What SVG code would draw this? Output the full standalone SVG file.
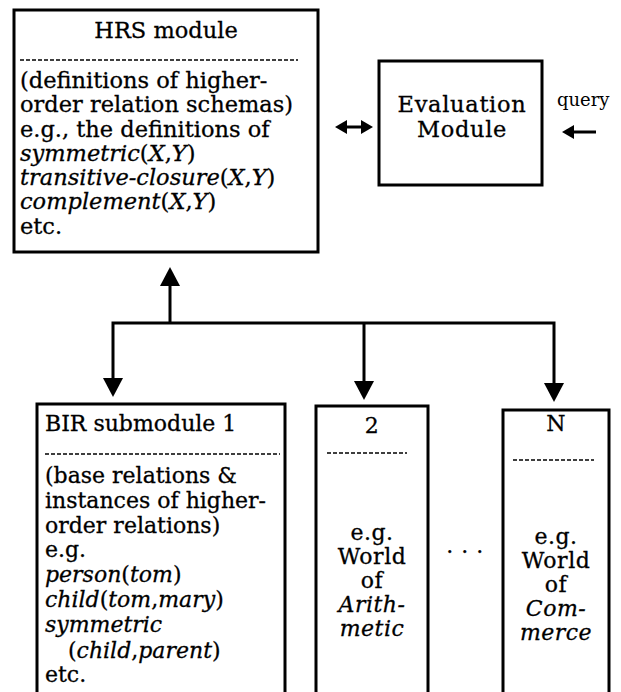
<svg xmlns="http://www.w3.org/2000/svg" width="621" height="692" viewBox="0 0 621 692">
<style>
.box{fill:none;stroke:#000;stroke-width:3}
.dash{stroke:#000;stroke-width:1.5;stroke-dasharray:4 2}
.t{font-family:"DejaVu Serif","Liberation Serif",serif;fill:#000;stroke:#000;stroke-width:0.3}
.h{font-size:22.5px}
.e{font-size:22.5px;letter-spacing:0.7px}
.b{font-size:22px}
.w{font-size:22px;letter-spacing:0.5px}
.c{text-anchor:middle}
.i{font-style:italic}
.ln{stroke:#000;stroke-width:3;fill:none}
.q{font-family:"DejaVu Serif","Liberation Serif",serif;font-size:18px;fill:#000}
</style>
<defs>
<marker id="big" viewBox="0 0 19 20" refX="0" refY="10" markerWidth="19" markerHeight="20" markerUnits="userSpaceOnUse" orient="auto-start-reverse"><path d="M0,0 L19,10 L0,20 Z" fill="#000"/></marker>
<marker id="small" viewBox="0 0 12 14" refX="0" refY="7" markerWidth="12" markerHeight="14" markerUnits="userSpaceOnUse" orient="auto-start-reverse"><path d="M0,0 L12,7 L0,14 Z" fill="#000"/></marker>
</defs>
<rect width="621" height="692" fill="#fff"/>
<g id="hrs">
<rect class="box" x="14" y="10" width="304" height="242"/>
<text class="t h c" x="166" y="38">HRS module</text>
<line class="dash" x1="20" y1="60" x2="298" y2="60"/>
<text class="t h" x="20" y="88">(definitions of higher-</text>
<text class="t h" x="20" y="112">order relation schemas)</text>
<text class="t h" x="20" y="137">e.g., the definitions of</text>
<text class="t h" x="20" y="161"><tspan class="i">symmetric</tspan>(<tspan class="i">X</tspan>,<tspan class="i">Y</tspan>)</text>
<text class="t h" x="20" y="185"><tspan class="i">transitive-closure</tspan>(<tspan class="i">X</tspan>,<tspan class="i">Y</tspan>)</text>
<text class="t h" x="20" y="209"><tspan class="i">complement</tspan>(<tspan class="i">X</tspan>,<tspan class="i">Y</tspan>)</text>
<text class="t h" x="20" y="234">etc.</text>
</g>
<g id="eval">
<rect class="box" x="379" y="61" width="163" height="124"/>
<text class="t e c" x="462" y="112">Evaluation</text>
<text class="t e c" x="462" y="137">Module</text>
</g>
<g id="query">
<text class="q" x="557" y="106">query</text>
</g>
<g id="bir1">
<rect class="box" x="37" y="404" width="248" height="300"/>
<text class="t b" x="45" y="431">BIR submodule 1</text>
<line class="dash" x1="45" y1="454" x2="280" y2="454"/>
<text class="t b" x="45" y="483">(base relations &amp;</text>
<text class="t b" x="45" y="508">instances of higher-</text>
<text class="t b" x="45" y="533">order relations)</text>
<text class="t b" x="45" y="557">e.g.</text>
<text class="t b" x="45" y="582"><tspan class="i">person</tspan>(<tspan class="i">tom</tspan>)</text>
<text class="t b" x="45" y="607"><tspan class="i">child</tspan>(<tspan class="i">tom</tspan>,<tspan class="i">mary</tspan>)</text>
<text class="t b i" x="45" y="632">symmetric</text>
<text class="t b" x="68" y="658">(<tspan class="i">child</tspan>,<tspan class="i">parent</tspan>)</text>
<text class="t b" x="45" y="682">etc.</text>
</g>
<g id="bir2">
<rect class="box" x="316" y="406" width="112" height="300"/>
<text class="t w c" x="372" y="433">2</text>
<line class="dash" x1="327" y1="453" x2="407" y2="453"/>
<text class="t w c" x="372" y="540">e.g.</text>
<text class="t w c" x="372" y="564">World</text>
<text class="t w c" x="372" y="588">of</text>
<text class="t w c i" x="372" y="612">Arith-</text>
<text class="t w c i" x="372" y="636">metic</text>
</g>
<g id="dots">
<text class="t w c" x="465" y="553">. . .</text>
</g>
<g id="birN">
<rect class="box" x="503" y="410" width="106" height="300"/>
<text class="t w c" x="556" y="431">N</text>
<line class="dash" x1="513" y1="460" x2="594" y2="460"/>
<text class="t w c" x="556" y="544">e.g.</text>
<text class="t w c" x="556" y="568">World</text>
<text class="t w c" x="556" y="592">of</text>
<text class="t w c i" x="556" y="616">Com-</text>
<text class="t w c i" x="556" y="640">merce</text>
</g>
<g id="connectors">
<line class="ln" x1="347" y1="127" x2="361" y2="127" marker-start="url(#small)" marker-end="url(#small)"/>
<line class="ln" x1="596" y1="132" x2="574" y2="132" marker-end="url(#small)"/>
<line class="ln" x1="170" y1="323" x2="170" y2="286" marker-end="url(#big)"/>
<polyline class="ln" points="113,378 113,323 554,323 554,383" marker-start="url(#big)" marker-end="url(#big)"/>
<line class="ln" x1="364" y1="323" x2="364" y2="381" marker-end="url(#big)"/>
</g>
</svg>
